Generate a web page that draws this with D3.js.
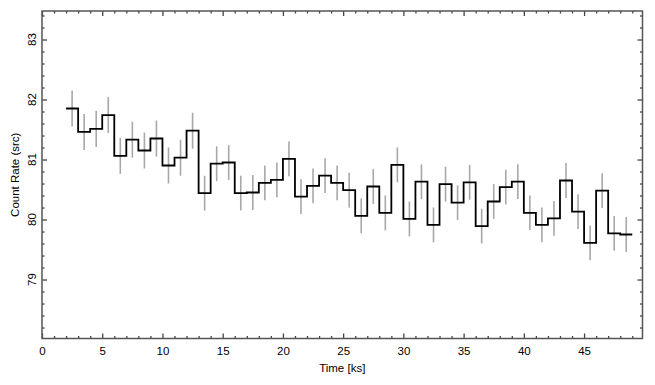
<!DOCTYPE html>
<html>
<head>
<meta charset="utf-8">
<script src="https://cdn.jsdelivr.net/npm/d3@7"></script>
<style>
  html, body { margin: 0; padding: 0; background: #fff; }
  text { font-family: "Liberation Sans", Arial, Helvetica, sans-serif; fill: #000; }
</style>
</head>
<body>
<svg id="chart" width="655" height="385"></svg>
<script>
// ---- data ----
const binStart = [2,3,4,5,6,7,8,9,10,11,12,13,14,15,16,17,18,19,20,21,22,23,24,25,
                  26,27,28,29,30,31,32,33,34,35,36,37,38,39,40,41,42,43,44,45,46,47,48];
const binWidth = 1;
const rate = [81.85,81.46,81.51,81.74,81.06,81.33,81.15,81.35,80.90,81.03,81.48,80.44,
              80.93,80.95,80.44,80.45,80.61,80.66,81.01,80.38,80.56,80.73,80.61,80.49,
              80.06,80.55,80.11,80.91,80.01,80.63,79.91,80.59,80.28,80.62,79.89,80.30,
              80.54,80.63,80.11,79.91,80.02,80.65,80.13,79.61,80.48,79.77,79.75];
const rateErr = [0.30,0.30,0.30,0.30,0.30,0.30,0.30,0.30,0.30,0.30,0.30,0.29,
                 0.29,0.29,0.29,0.29,0.29,0.29,0.29,0.29,0.29,0.29,0.29,0.29,
                 0.29,0.29,0.29,0.29,0.29,0.29,0.29,0.29,0.29,0.29,0.29,0.29,
                 0.29,0.29,0.29,0.29,0.29,0.29,0.29,0.29,0.29,0.29,0.29];
const xMajorTicks = [0,5,10,15,20,25,30,35,40,45];
const yMajorTicks = [79,80,81,82,83];
const xLabel = "Time [ks]";
const yLabel = "Count Rate (src)";

// ---- layout ----
const svg = d3.select("#chart");
const x = d3.scaleLinear().domain([0, 49.85]).range([42, 642.5]);
const y = d3.scaleLinear().domain([78.017, 83.475]).range([338.5, 11]);
const [x0, x1] = x.range();
const [yb, yt] = y.range();

const xMinor = d3.range(0, 50, 1).filter(v => v % 5 !== 0);
const yMinor = d3.range(78.2, 83.45, 0.2).map(v => +v.toFixed(1)).filter(v => Math.abs(v - Math.round(v)) > 0.01);

// error bars
svg.append("g")
  .selectAll("line")
  .data(binStart)
  .join("line")
  .attr("x1", (d) => x(d + binWidth / 2))
  .attr("x2", (d) => x(d + binWidth / 2))
  .attr("y1", (d, i) => y(rate[i] - rateErr[i]))
  .attr("y2", (d, i) => y(rate[i] + rateErr[i]))
  .attr("stroke", "#a8a8a8")
  .attr("stroke-width", 1.6);

// step line
const pts = binStart.map((d, i) => [d, rate[i]]);
pts.push([binStart[binStart.length - 1] + binWidth, rate[rate.length - 1]]);
svg.append("path")
  .datum(pts)
  .attr("d", d3.line().x(d => x(d[0])).y(d => y(d[1])).curve(d3.curveStepAfter))
  .attr("fill", "none")
  .attr("stroke", "#000")
  .attr("stroke-width", 1.8);

// axes (ticks inward on all sides)
function styleAxis(g) {
  g.select(".domain").remove();
  g.selectAll(".tick line").attr("stroke", "#444").attr("stroke-width", 1.3);
}
const fmt = d3.format("d");
svg.append("g").attr("transform", `translate(0,${yb})`)
  .call(d3.axisBottom(x).tickValues(xMajorTicks).tickSize(-5).tickPadding(8).tickFormat(fmt))
  .call(styleAxis)
  .call(g => g.selectAll("text").attr("font-size", 11.5).attr("fill", "#000").attr("font-family", "Liberation Sans, Arial, sans-serif"));
svg.append("g").attr("transform", `translate(0,${yb})`)
  .call(d3.axisBottom(x).tickValues(xMinor).tickSize(-2.5).tickFormat(""))
  .call(styleAxis);
svg.append("g").attr("transform", `translate(0,${yt})`)
  .call(d3.axisTop(x).tickValues(xMajorTicks).tickSize(-5).tickFormat(""))
  .call(styleAxis);
svg.append("g").attr("transform", `translate(0,${yt})`)
  .call(d3.axisTop(x).tickValues(xMinor).tickSize(-2.5).tickFormat(""))
  .call(styleAxis);
svg.append("g").attr("transform", `translate(${x0},0)`)
  .call(d3.axisLeft(y).tickValues(yMajorTicks).tickSize(-5).tickFormat(""))
  .call(styleAxis);
svg.append("g").attr("transform", `translate(${x0},0)`)
  .call(d3.axisLeft(y).tickValues(yMinor).tickSize(-2.5).tickFormat(""))
  .call(styleAxis);
svg.append("g").attr("transform", `translate(${x1},0)`)
  .call(d3.axisRight(y).tickValues(yMajorTicks).tickSize(-5).tickFormat(""))
  .call(styleAxis);
svg.append("g").attr("transform", `translate(${x1},0)`)
  .call(d3.axisRight(y).tickValues(yMinor).tickSize(-2.5).tickFormat(""))
  .call(styleAxis);

// rotated y tick labels
svg.append("g")
  .selectAll("text")
  .data(yMajorTicks)
  .join("text")
  .attr("transform", d => `translate(36,${y(d)}) rotate(-90)`)
  .attr("text-anchor", "middle")
  .attr("font-size", 11.5)
  .text(d => fmt(d));

// frame
svg.append("rect")
  .attr("x", x0).attr("y", yt)
  .attr("width", x1 - x0).attr("height", yb - yt)
  .attr("fill", "none")
  .attr("stroke", "#555")
  .attr("stroke-width", 1.5);

// axis titles
svg.append("text")
  .attr("x", (x0 + x1) / 2).attr("y", 372)
  .attr("text-anchor", "middle")
  .attr("font-size", 11.5)
  .text(xLabel);
svg.append("text")
  .attr("transform", `translate(19,${(yt + yb) / 2}) rotate(-90)`)
  .attr("text-anchor", "middle")
  .attr("font-size", 11.5)
  .text(yLabel);
</script>
</body>
</html>
